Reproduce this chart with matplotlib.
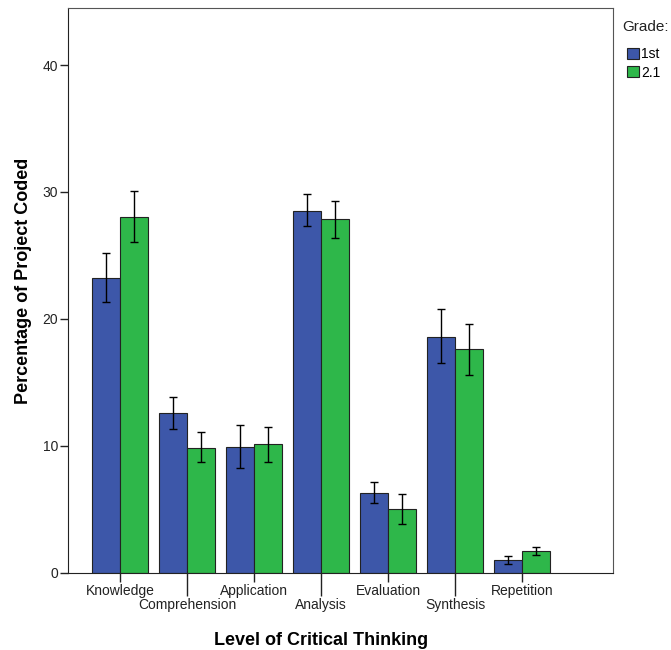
import numpy as np
import matplotlib
matplotlib.use("Agg")
import matplotlib.pyplot as plt
from matplotlib.patches import Patch

plt.rcParams['font.family'] = ['Liberation Sans', 'DejaVu Sans']

categories = ['Knowledge', 'Comprehension', 'Application', 'Analysis',
              'Evaluation', 'Synthesis', 'Repetition']
grades = ['1st', '2.1']

first_mean = [23.2, 12.6, 9.9, 28.5, 6.3, 18.6, 1.0]
first_low = [21.3, 11.35, 8.25, 27.35, 5.5, 16.5, 0.7]
first_high = [25.2, 13.8, 11.65, 29.8, 7.1, 20.75, 1.3]

second_mean = [28.05, 9.85, 10.1, 27.85, 5.0, 17.6, 1.7]
second_low = [26.05, 8.7, 8.75, 26.35, 3.8, 15.6, 1.4]
second_high = [30.1, 11.1, 11.5, 29.3, 6.2, 19.6, 2.0]

blue = '#3D57A9'
green = '#2EB74A'


def draw_bars(ax, x, mean, low, high, color):
    mean = np.array(mean)
    yerr = [mean - np.array(low), np.array(high) - mean]
    ax.bar(x, mean, width=0.418, color=color, edgecolor='#222222',
           linewidth=0.8, zorder=2)
    ax.errorbar(x, mean, yerr=yerr, fmt='none', ecolor='black',
                elinewidth=1.0, capsize=3, capthick=1.0, zorder=3)


fig = plt.figure(figsize=(6.71, 6.5), dpi=100)
ax = fig.add_axes([0.1013, 0.1192, 0.8123, 0.8685])

pos = np.arange(len(categories))
draw_bars(ax, pos - 0.209, first_mean, first_low, first_high, blue)
draw_bars(ax, pos + 0.209, second_mean, second_low, second_high, green)

ax.set_xlim(-0.776, 7.358)
ax.set_ylim(0, 44.5)
ax.set_yticks([0, 10, 20, 30, 40])
ax.tick_params(axis='y', direction='out', length=6, width=1, pad=1,
               labelsize=10, colors='#222222')

# alternate tick lengths so the labels stagger like the original
even = pos[::2]
odd = pos[1::2]
ax.set_xticks(even, [categories[i] for i in even])
ax.set_xticks(odd, [categories[i] for i in odd], minor=True)
ax.tick_params(axis='x', which='major', direction='out', length=6.5,
               width=1, pad=2, labelsize=10, colors='#222222')
ax.tick_params(axis='x', which='minor', direction='out', length=16.5,
               width=1, pad=2, labelsize=10, colors='#222222')

for side in ['left', 'bottom']:
    ax.spines[side].set_color('#222222')
for side in ['top', 'right']:
    ax.spines[side].set_color('#555555')

ax.set_xlabel('Level of Critical Thinking', fontsize=13, fontweight='bold',
              labelpad=14)
ax.xaxis.label.set_x(0.464)
ax.set_ylabel('Percentage of Project Coded', fontsize=13, fontweight='bold',
              labelpad=8)
ax.yaxis.label.set_y(0.516)

# legend title sits a bit apart from the entries, as in SPSS output
fig.text(0.928, 0.958, 'Grade:', fontsize=11, color='#222222',
         ha='left', va='center')
handles = [Patch(facecolor=blue, edgecolor='#222222', linewidth=0.8),
           Patch(facecolor=green, edgecolor='#222222', linewidth=0.8)]
fig.legend(handles, grades, loc='upper left',
           bbox_to_anchor=(0.935, 0.927), frameon=False, fontsize=10,
           handlelength=0.85, handleheight=0.85, handletextpad=0.15,
           labelspacing=0.3, borderpad=0, borderaxespad=0)

fig.savefig('out.png', dpi=100)
